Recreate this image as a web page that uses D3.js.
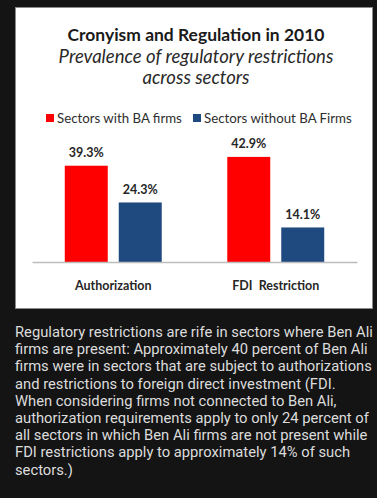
<!DOCTYPE html>
<html><head><meta charset="utf-8">
<script src="https://cdn.jsdelivr.net/npm/d3@7"></script>
<style>html,body{margin:0;padding:0;background:#141414;overflow:hidden}</style>
</head><body><script>
// ---- data ----
const categories = ["Authorization", "FDI  Restriction"];
const seriesNames = ["Sectors with BA firms", "Sectors without BA Firms"];
const withBA = [39.3, 42.9];
const withoutBA = [24.3, 14.1];
const seriesColors = ["#ff0000", "#1f4a80"];
const titleText = "Cronyism and Regulation in 2010";
const subtitleLines = ["Prevalence of regulatory restrictions", "across sectors"];
const captionLines = [
  "Regulatory restrictions are rife in sectors where Ben Ali",
  "firms are present: Approximately 40 percent of Ben Ali",
  "firms were in sectors that are subject to authorizations",
  "and restrictions to foreign direct investment (FDI.",
  "When considering firms not connected to Ben Ali,",
  "authorization requirements apply to only 24 percent of",
  "all sectors in which Ben Ali firms are not present while",
  "FDI restrictions apply to approximately 14% of such",
  "sectors.)"
];

const W = 377, H = 498;
const svg = d3.select("body").append("svg").attr("width", W).attr("height", H)
  .style("display", "block");
svg.append("rect").attr("width", W).attr("height", H).attr("fill", "#141414");

// panel
svg.append("rect").attr("x", 15.5).attr("y", 7.5).attr("width", 357).attr("height", 301)
  .attr("fill", "#ffffff").attr("stroke", "#8a8a8a").attr("stroke-width", 1);

function fit(sel, w) {
  const fs = parseFloat(sel.attr("font-size"));
  const len = sel.node().getComputedTextLength();
  sel.attr("font-size", fs * w / len);
  return fs * w / len;
}

const chartFont = "Lato, 'Open Sans', sans-serif";
const cx = 196;

// title
const t = svg.append("text").attr("x", cx).attr("y", 41).attr("text-anchor", "middle")
  .attr("font-family", chartFont).attr("font-weight", "bold").attr("font-size", 17)
  .attr("fill", "#1a1a1a").text(titleText);
fit(t, 257);

const subY = [63, 84];
const subTexts = subtitleLines.map((s, i) => svg.append("text").attr("x", cx).attr("y", subY[i])
  .attr("text-anchor", "middle")
  .attr("font-family", chartFont).attr("font-style", "italic").attr("font-size", 16)
  .attr("fill", "#2a2a2a").text(s));
const subFs = fit(subTexts[0], 275);
subTexts[1].attr("font-size", subFs);

// legend
const legX = [46, 193];
const legW = [125, 148];
seriesNames.forEach((s, i) => {
  svg.append("rect").attr("x", legX[i]).attr("y", 114).attr("width", 8).attr("height", 8)
    .attr("fill", seriesColors[i]);
  const lt = svg.append("text").attr("x", legX[i] + 11).attr("y", 122.5)
    .attr("font-family", chartFont).attr("font-size", 12).attr("fill", "#2e2e2e")
    .text(s);
  fit(lt, legW[i]);
});

// scales
const x0 = d3.scaleBand().domain(categories).range([32, 357]).padding(0);
const x1 = d3.scaleBand().domain(seriesNames).range([0, x0.bandwidth()])
  .paddingInner(0.204).paddingOuter(0.607);
const y = d3.scaleLinear().domain([0, 50]).range([262, 139.5]);

const rows = categories.map((c, i) => ({cat: c, vals: [withBA[i], withoutBA[i]]}));

const g = svg.append("g");
const grp = g.selectAll("g.grp").data(rows).join("g")
  .attr("transform", d => `translate(${x0(d.cat)},0)`);
grp.selectAll("rect").data(d => d.vals.map((v, j) => ({s: seriesNames[j], v, j})))
  .join("rect")
  .attr("x", d => x1(d.s)).attr("width", x1.bandwidth())
  .attr("y", d => y(d.v)).attr("height", d => y(0) - y(d.v))
  .attr("fill", d => seriesColors[d.j]);
grp.selectAll("text.val").data(d => d.vals.map((v, j) => ({s: seriesNames[j], v, j})))
  .join("text").attr("class", "val")
  .attr("x", d => x1(d.s) + x1.bandwidth() / 2).attr("y", d => y(d.v) - 8.5)
  .attr("text-anchor", "middle").attr("font-family", chartFont).attr("font-weight", "bold")
  .attr("font-size", 12.5).attr("fill", "#262626")
  .text(d => d.v.toFixed(1) + "%");

// baseline axis
const ax = svg.append("g").attr("transform", `translate(0,${y(0)})`)
  .call(d3.axisBottom(x0).tickSize(0).tickPadding(0).tickFormat(""));
ax.select(".domain").attr("stroke", "#bdbdbd").attr("stroke-width", 1.5);

// category labels
categories.forEach((c, i) => {
  svg.append("text").attr("x", x0(c) + x0.bandwidth() / 2).attr("y", 290)
    .attr("text-anchor", "middle").attr("font-family", chartFont).attr("font-weight", "bold")
    .attr("font-size", 12.5).attr("fill", "#262626").style("white-space", "pre").text(c);
});

// caption (condensed look: horizontally scaled to the reference line width)
const capG = svg.append("g");
const capLines = captionLines.map((l, i) => capG.append("text")
  .attr("x", 0).attr("y", 337 + i * 17.2)
  .attr("font-family", "Roboto, 'Liberation Sans', sans-serif").attr("font-size", 15.2)
  .attr("fill", "#dcdcdc").text(l));
const L = capLines[0].node().getComputedTextLength();
capG.attr("transform", `translate(15,0) scale(${358 / L},1)`);
</script></body></html>
